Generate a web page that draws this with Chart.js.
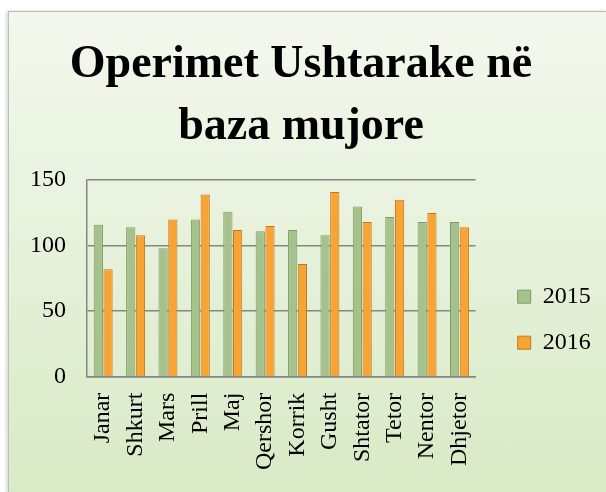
<!DOCTYPE html>
<html>
<head>
<meta charset="utf-8">
<script src="https://cdn.jsdelivr.net/npm/chart.js@4"></script>
<style>
    body { margin: 0; background: #fff; }
    #frame {
        position: absolute; left: 8px; top: 11px; width: 597px; height: 480px;
        border: 1px solid #b9c2b0;
        box-shadow: -2px 0 3px rgba(0,0,0,0.15);
        background: linear-gradient(#f3f8ee, #d9eac6);
    }
</style>
</head>
<body>
<div id="frame"><canvas id="opsChart" width="597" height="480"></canvas></div>
<script>
var months = ['Janar', 'Shkurt', 'Mars', 'Prill', 'Maj', 'Qershor', 'Korrik', 'Gusht', 'Shtator', 'Tetor', 'Nentor', 'Dhjetor'];
var ops2015 = [116, 114, 98, 120, 126, 111, 112, 108, 130, 122, 118, 118];
var ops2016 = [82, 108, 120, 139, 112, 115, 86, 141, 118, 135, 125, 114];
var yTicks = [0, 50, 100, 150];

var serif = "'Liberation Serif', 'DejaVu Serif', serif";

var ctx = document.getElementById('opsChart').getContext('2d');
var chart = new Chart(ctx, {
    type: 'bar',
    data: {
        labels: months,
        datasets: [{
            label: '2015',
            data: ops2015,
            backgroundColor: '#a6c28c',
            borderColor: '#7f9c68',
            borderWidth: 1
        }, {
            label: '2016',
            data: ops2016,
            backgroundColor: '#f8a435',
            borderColor: '#c47a1c',
            borderWidth: 1
        }]
    },
    options: {
        responsive: false,
        animation: false,
        layout: {
            padding: { left: 0, right: 13, top: 10, bottom: 6 }
        },
        datasets: {
            bar: {
                categoryPercentage: 0.6,
                barPercentage: 0.95
            }
        },
        scales: {
            x: {
                grid: { display: false, drawTicks: false },
                border: { color: '#868686', width: 1.5 },
                ticks: {
                    minRotation: 90,
                    maxRotation: 90,
                    padding: 16,
                    color: '#000',
                    font: { family: serif, size: 24 }
                }
            },
            y: {
                min: 0,
                max: 150,
                afterBuildTicks: function(axis) {
                    axis.ticks = yTicks.map(function(v) { return { value: v }; });
                },
                grid: { color: '#868686', lineWidth: 1.5, drawTicks: false },
                border: { color: '#868686', width: 1.5 },
                ticks: {
                    padding: 21,
                    color: '#000',
                    font: { family: serif, size: 24 }
                }
            },
            // empty axis, only keeps a gap between the bars and the legend
            gap: {
                position: 'right',
                grid: { display: false, drawTicks: false },
                border: { display: false },
                ticks: { display: false },
                afterFit: function(axis) { axis.width = 20; }
            }
        },
        plugins: {
            title: {
                display: true,
                text: ['Operimet Ushtarake në', 'baza mujore'],
                color: '#000',
                font: { family: serif, size: 46, weight: 'bold', lineHeight: 1.35 },
                padding: { top: 12, bottom: 22 }
            },
            legend: {
                position: 'right',
                align: 'end',
                fullSize: false,
                labels: {
                    boxWidth: 13,
                    boxHeight: 13,
                    padding: 22,
                    color: '#000',
                    font: { family: serif, size: 24 }
                }
            },
            tooltip: { enabled: false }
        }
    }
});
</script>
</body>
</html>
